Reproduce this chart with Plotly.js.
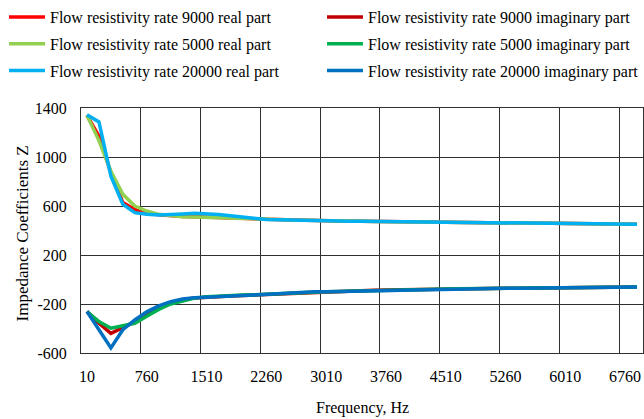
<!DOCTYPE html>
<html>
<head>
<meta charset="utf-8">
<script src="https://cdn.plot.ly/plotly-3.0.1.min.js"></script>
<style>html,body{margin:0;padding:0;background:#fff;}#chart{width:644px;height:419px;}</style>
</head>
<body>
<div id="chart"></div>
<script>
var freq = [10,160,310,460,610,760,910,1060,1210,1360,1510,1660,1810,1960,2110,2260,2410,2560,2710,2860,3010,3160,3310,3460,3610,3760,3910,4060,4210,4360,4510,4660,4810,4960,5110,5260,5410,5560,5710,5860,6010,6160,6310,6460,6610,6760,6910];

var real9000 = [1340,1169,874,628,571,543,528,520,515,512,510,507,503,499,495,491,488,485,483,481,479,477,476,475,474,473,471,470,469,468,467,466,465,464,463,462,461,460,459,458,457,456,455,454,453,452,451];
var imag9000 = [-261,-357,-440,-395,-345,-277,-228,-190,-165,-150,-143,-139,-135,-131,-127,-121,-115,-109,-105,-102,-99,-97,-94,-91,-88,-86,-84,-82,-80,-78,-77,-76,-75,-74,-73,-72,-71,-70,-69,-68,-67,-66,-65,-64,-63,-62,-61];
var real5000 = [1340,1134,884,695,600,559,532,520,513,510,508,505,502,500,497,494,490,486,483,481,479,477,476,475,474,473,471,470,469,468,467,466,465,464,463,462,461,460,459,458,457,456,455,454,453,452,451];
var imag5000 = [-261,-344,-398,-380,-357,-300,-244,-200,-173,-152,-140,-134,-130,-127,-124,-119,-114,-109,-105,-102,-99,-97,-94,-91,-88,-86,-84,-82,-80,-78,-77,-76,-75,-74,-73,-72,-71,-70,-69,-68,-67,-66,-65,-64,-63,-62,-61];
var real20000 = [1345,1286,844,614,546,532,527,528,535,540,538,530,520,508,497,490,487,484,482,480,478,477,476,475,474,473,471,470,469,468,467,466,465,464,463,462,461,460,459,458,457,456,455,454,453,452,451];
var imag20000 = [-261,-412,-558,-410,-330,-264,-215,-181,-159,-148,-142,-138,-134,-130,-126,-120,-114,-108,-104,-101,-99,-97,-94,-91,-88,-86,-84,-82,-80,-78,-77,-76,-75,-74,-73,-72,-71,-70,-69,-68,-67,-66,-65,-64,-63,-62,-61];

var names = ['Flow resistivity rate 9000 real part','Flow resistivity rate 9000 imaginary part','Flow resistivity rate 5000 real part','Flow resistivity rate 5000 imaginary part','Flow resistivity rate 20000 real part','Flow resistivity rate 20000 imaginary part'];
var series = [real9000, imag9000, real5000, imag5000, real20000, imag20000];
var colors = ['#ff0000','#c00000','#92d050','#00b050','#00b0f0','#0070c0'];
var legends = ['legend','legend2','legend','legend2','legend','legend2'];

var labelTicks = [10,760,1510,2260,3010,3760,4510,5260,6010,6760];
var gridTicks = [685,1435,2185,2935,3685,4435,5185,5935,6685];
var yTicks = [-600,-200,200,600,1000,1400];
var xTitle = 'Frequency, Hz';
var yTitle = 'Impedance Coefficients Z';

var traces = series.map(function(s,i){
  return {x:freq, y:s, type:'scatter', mode:'lines', name:names[i],
    line:{color:colors[i], width:3.5}, legend:legends[i], legendgroup:'g'+i, xaxis:'x', yaxis:'y'};
});
traces.push({x:[labelTicks[0]], y:[null], xaxis:'x2', yaxis:'y', showlegend:false, hoverinfo:'skip', mode:'lines'});

var serif = "'Liberation Serif', 'Times New Roman', serif";
var xr = [-65, 6985];
var grid = '#303030';
var layout = {
  width:644, height:419,
  margin:{l:81, r:1, t:108, b:66, autoexpand:false},
  paper_bgcolor:'#fff', plot_bgcolor:'#fff',
  font:{family:serif, size:16, color:'#000'},
  showlegend:true,
  legend:{xref:'container', yref:'container', x:4/644, y:1.009, xanchor:'left', yanchor:'top', itemwidth:36,
    orientation:'v', bgcolor:'rgba(0,0,0,0)', tracegroupgap:3, font:{family:serif, size:16, color:'#000'}},
  legend2:{xref:'container', yref:'container', x:322/644, y:1.009, xanchor:'left', yanchor:'top', itemwidth:36,
    orientation:'v', bgcolor:'rgba(0,0,0,0)', tracegroupgap:3, font:{family:serif, size:16, color:'#000'}},
  xaxis:{range:xr, tickmode:'array', tickvals:gridTicks, showticklabels:false, showgrid:true,
    gridcolor:grid, gridwidth:1, zeroline:false, showline:true, linecolor:grid, linewidth:1, mirror:true, ticks:''},
  xaxis2:{range:xr, overlaying:'x', side:'bottom', tickmode:'array', tickvals:labelTicks,
    ticktext:labelTicks.map(String), showgrid:false, zeroline:false, showline:false, ticks:'',
    ticklabelstandoff:12, tickfont:{family:serif, size:16, color:'#000'}},
  yaxis:{range:[-600,1400], tickmode:'array', tickvals:yTicks, ticktext:yTicks.map(String),
    showgrid:true, gridcolor:grid, gridwidth:1, zeroline:false, showline:true, linecolor:grid, linewidth:1,
    mirror:true, ticks:'', ticklabelstandoff:10, tickfont:{family:serif, size:16, color:'#000'}},
  annotations:[
    {text:xTitle, xref:'paper', yref:'paper', x:0.5, y:0, xanchor:'center', yanchor:'middle', yshift:-55,
      showarrow:false, font:{family:serif, size:16, color:'#000'}},
    {text:yTitle, xref:'paper', yref:'paper', x:0, y:0.5, xanchor:'center', yanchor:'middle', xshift:-59, yshift:-3,
      textangle:-90, showarrow:false, font:{family:serif, size:17, color:'#000'}}
  ]
};
Plotly.newPlot('chart', traces, layout, {displayModeBar:false, staticPlot:true});
</script>
</body>
</html>
